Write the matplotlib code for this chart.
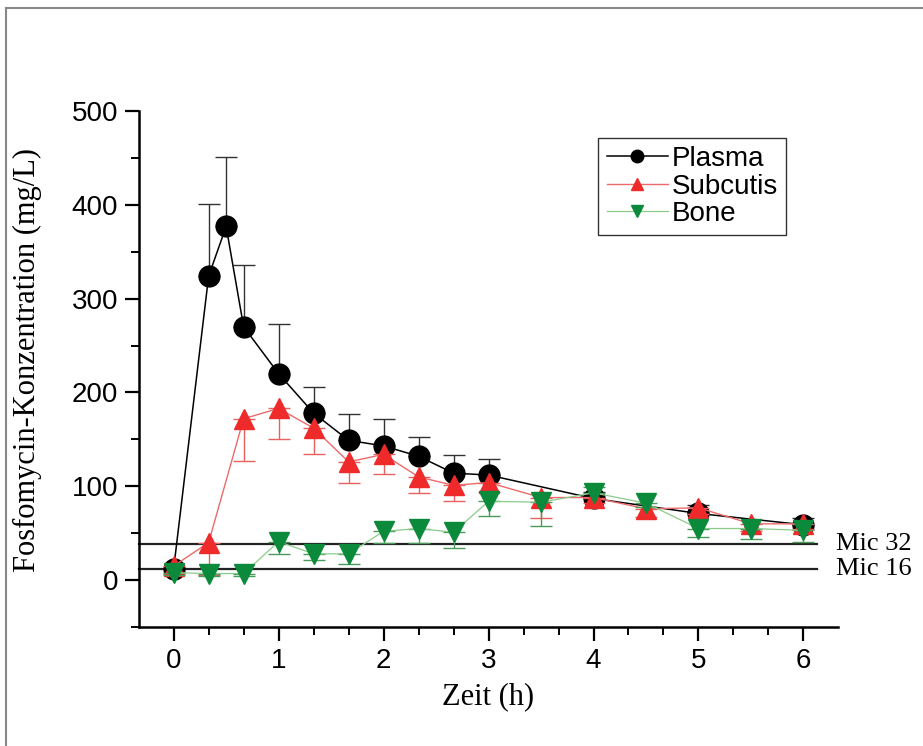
import numpy as np
import matplotlib
matplotlib.use('Agg')
import matplotlib.pyplot as plt
from matplotlib.lines import Line2D
from matplotlib.ticker import MultipleLocator

# =============================================================================
# data
# =============================================================================
t_plasma = [0, 1/3, 0.5, 2/3, 1, 4/3, 5/3, 2, 7/3, 8/3, 3, 4, 5, 6]
plasma = [12, 324, 377, 270, 220, 178, 149, 143, 132, 114, 112, 87, 71, 59]
plasma_err = [0, 77, 74, 66, 53, 28, 28, 29, 20, 19, 17, 7, 9, 7]

t_tis = [0, 1/3, 2/3, 1, 4/3, 5/3, 2, 7/3, 8/3, 3, 3.5, 4, 4.5, 5, 5.5, 6]
subcutis = [15, 40, 172, 183, 162, 126, 134, 110, 101, 104, 88, 88, 76, 77, 60, 60]
subcutis_err = [8, 35, 45, 33, 28, 23, 21, 17, 17, 10, 22, 6, 9, 7, 8, 5]
bone = [8, 7, 7, 41, 28, 28, 52, 55, 51, 84, 83, 93, 82, 55, 55, 53]
bone_err = [3, 3, 3, 13, 7, 11, 12, 15, 17, 16, 25, -6, 4, 9, 11, 12]

mic_levels = [39, 12]
mic_labels = ['Mic 32', 'Mic 16']

# =============================================================================
# plot
# =============================================================================
f = plt.figure(figsize=(9.23, 7.46), dpi=100)
ax = f.add_axes([0.1506, 0.1595, 0.7574, 0.6917])

red = '#ee2a2a'
green = '#0b8a3c'

# plasma: error bars upwards
ax.errorbar(t_plasma, plasma, yerr=[np.zeros(len(plasma)), plasma_err],
            fmt='none', ecolor='#333333', elinewidth=1.0, capsize=8, capthick=1.0, zorder=2)
ax.plot(t_plasma, plasma, color='black', lw=1.1, marker='o', ms=15,
        mfc='black', mec='black', zorder=3, label='Plasma')

# subcutis: error bars downwards
ax.errorbar(t_tis, subcutis, yerr=[subcutis_err, np.zeros(len(subcutis))],
            fmt='none', ecolor='#e86060', elinewidth=1.0, capsize=8, capthick=1.0, zorder=4)
ax.plot(t_tis, subcutis, color='#ec6a6a', lw=1.0, marker='^', ms=14,
        mfc=red, mec=red, zorder=5, label='Subcutis')

# bone: error bars downwards (one upwards at 4 h)
b_low = [max(e, 0) for e in bone_err]
b_up = [max(-e, 0) for e in bone_err]
ax.errorbar(t_tis, bone, yerr=[b_low, b_up],
            fmt='none', ecolor='#4a9a5a', elinewidth=1.0, capsize=8, capthick=1.0, zorder=6)
ax.plot(t_tis, bone, color='#8acb8a', lw=0.9, marker='v', ms=14,
        mfc=green, mec=green, zorder=7, label='Bone')

# MIC lines
for lev, lab in zip(mic_levels, mic_labels):
    ax.plot([-0.33, 6.13], [lev, lev], color='#222222', lw=1.6, zorder=1, clip_on=False)
    ax.text(6.31, lev, lab, fontsize=19, family='Liberation Serif', va='center',
            ha='left', clip_on=False)

ax.set_xlim(-0.33, 6.33)
ax.set_ylim(-50, 500)
ax.xaxis.set_major_locator(MultipleLocator(1))
ax.xaxis.set_minor_locator(MultipleLocator(1/3))
ax.yaxis.set_major_locator(MultipleLocator(100))
ax.yaxis.set_minor_locator(MultipleLocator(50))
ax.spines['top'].set_visible(False)
ax.spines['right'].set_visible(False)
ax.spines['left'].set_linewidth(1.8)
ax.spines['bottom'].set_linewidth(1.8)
ax.tick_params(which='major', length=10, width=1.6, labelsize=20, pad=5)
ax.tick_params(which='minor', length=6, width=1.4)
for t in ax.get_xticklabels() + ax.get_yticklabels():
    t.set_family('Liberation Sans')

leg = ax.legend(loc='upper left', bbox_to_anchor=(0.657, 0.948),
                prop={'family': 'Liberation Sans', 'size': 20},
                frameon=True, fancybox=False, edgecolor='black', markerscale=0.6,
                handlelength=2.2, handletextpad=0.15, labelspacing=0.05,
                borderpad=0.3, borderaxespad=0)
leg.get_frame().set_linewidth(1.0)

f.text(488/923, 1 - 697/746, 'Zeit (h)', fontsize=22, family='Liberation Serif',
       ha='center', va='center')
f.text(27/923, 1 - 360/746, 'Fosfomycin-Konzentration (mg/L)', fontsize=22,
       family='Liberation Serif', rotation=90, ha='center', va='center')

# grey frame around the figure
f.add_artist(Line2D([6/923, 6/923], [0, 1 - 8/746], color='#888888', lw=1.5))
f.add_artist(Line2D([6/923, 1], [1 - 8/746, 1 - 8/746], color='#888888', lw=1.5))

f.savefig('out.png', dpi=100)
